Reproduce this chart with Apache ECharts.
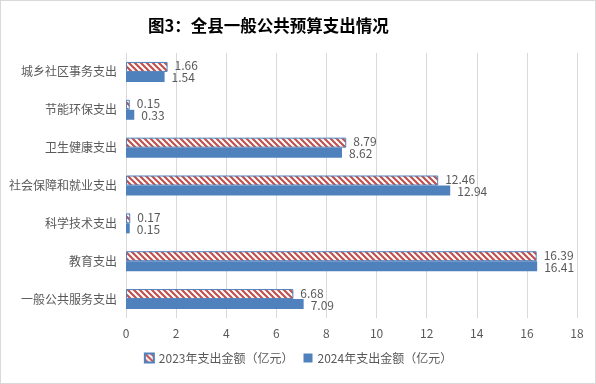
<!DOCTYPE html>
<html><head><meta charset="utf-8">
<script src="https://cdn.jsdelivr.net/npm/echarts@6/dist/echarts.min.js"></script>
<style>html,body{margin:0;padding:0;background:#fff}#c{width:596px;height:384px;box-sizing:border-box;border:1px solid #d9d9d9}</style>
</head><body><div id="c"></div>
<script>
const categories = ['一般公共服务支出','教育支出','科学技术支出','社会保障和就业支出','卫生健康支出','节能环保支出','城乡社区事务支出'];
const values2023 = [6.68, 16.39, 0.17, 12.46, 8.79, 0.15, 1.66];
const values2024 = [7.09, 16.41, 0.15, 12.94, 8.62, 0.33, 1.54];
const seriesNames = ['2023年支出金额（亿元）','2024年支出金额（亿元）'];
const xTicks = {min:0, max:18, interval:2};

const tile = document.createElement('canvas');
tile.width = 6; tile.height = 6;
const g = tile.getContext('2d');
g.fillStyle = '#ffffff'; g.fillRect(0,0,6,6);
g.strokeStyle = '#c0504d'; g.lineWidth = 2.2;
g.beginPath();
g.moveTo(-1,-1); g.lineTo(7,7);
g.moveTo(-4,2); g.lineTo(4,10);
g.moveTo(2,-4); g.lineTo(10,4);
g.stroke();
const stripe = {image: tile, repeat: 'repeat'};

const chart = echarts.init(document.getElementById('c'), null, {renderer:'canvas'});
const labelBase = {show:true, position:'right', distance:7, color:'#595959', fontSize:12, fontFamily:'Noto Sans CJK SC'};
chart.setOption({
  animation:false,
  title:{text:'图3：全县一般公共预算支出情况', left:142, top:11,
    textStyle:{fontSize:16.5, fontWeight:'bold', color:'#000', fontFamily:'Noto Sans CJK SC'}},
  grid:{left:125, right:18, top:52, bottom:65},
  legend:{bottom:14, left:'center', icon:'rect', itemWidth:9, itemHeight:9, itemGap:10,
    textStyle:{color:'#595959', fontSize:12, fontFamily:'Noto Sans CJK SC'}},
  xAxis:{type:'value', min:xTicks.min, max:xTicks.max, interval:xTicks.interval,
    axisLine:{show:false}, axisTick:{show:false},
    axisLabel:{color:'#595959', fontSize:12, margin:9, fontFamily:'Noto Sans CJK SC'},
    splitLine:{lineStyle:{color:'#d9d9d9', width:1}}},
  yAxis:{type:'category', data:categories,
    axisLine:{show:false}, axisTick:{show:false},
    axisLabel:{color:'#595959', fontSize:12, margin:9, fontFamily:'Noto Sans CJK SC'}},
  series:[
    {name:seriesNames[0], type:'bar', data:values2023, barWidth:10, barGap:'0%',
      itemStyle:{color:stripe, borderColor:'#4f81bd', borderWidth:1},
      label:Object.assign({}, labelBase, {offset:[0,-1]})},
    {name:seriesNames[1], type:'bar', data:values2024, barWidth:10,
      itemStyle:{color:'#4f81bd'},
      label:Object.assign({}, labelBase, {offset:[0,1]})}
  ]
});
</script></body></html>
